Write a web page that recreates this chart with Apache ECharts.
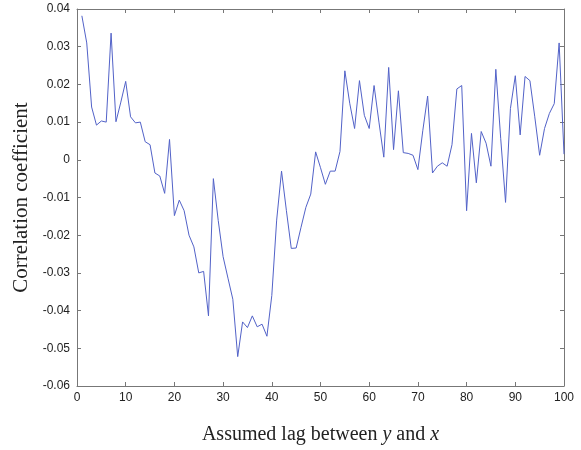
<!DOCTYPE html>
<html>
<head>
<meta charset="utf-8">
<script src="https://cdn.jsdelivr.net/npm/echarts@6/dist/echarts.min.js"></script>
<style>
html,body{margin:0;padding:0;background:#fff;}
#c{width:581px;height:450px;}
</style>
</head>
<body>
<div id="c"></div>
<script>
var lags = [];
for (var i = 1; i <= 100; i++) lags.push(i);
var corr = [
 0.0382, 0.0310, 0.0140, 0.0092, 0.0103, 0.0100, 0.0336, 0.0101, 0.0153, 0.0208,
 0.0114, 0.0098, 0.0100, 0.0048, 0.0040, -0.0035, -0.0043, -0.0089, 0.0054, -0.0148,
 -0.0107, -0.0135, -0.0200, -0.0231, -0.0300, -0.0296, -0.0414, -0.0050, -0.0161, -0.0257,
 -0.0314, -0.0370, -0.0522, -0.0430, -0.0445, -0.0414, -0.0443, -0.0436, -0.0468, -0.0360,
 -0.0160, -0.0030, -0.0135, -0.0235, -0.0234, -0.0179, -0.0126, -0.0091, 0.0021, -0.0021,
 -0.0065, -0.0030, -0.0030, 0.0022, 0.0236, 0.0150, 0.0083, 0.0210, 0.0118, 0.0083,
 0.0197, 0.0100, 0.0007, 0.0245, 0.0027, 0.0183, 0.0019, 0.0017, 0.0012, -0.0026,
 0.0077, 0.0169, -0.0035, -0.0017, -0.0008, -0.0017, 0.0040, 0.0188, 0.0197, -0.0135,
 0.0070, -0.0061, 0.0075, 0.0044, -0.0017, 0.0240, 0.0057, -0.0113, 0.0136, 0.0223,
 0.0066, 0.0221, 0.0210, 0.0114, 0.0012, 0.0083, 0.0123, 0.0149, 0.0310, 0.0015
];
var xTicks = {min: 0, max: 100, interval: 10};
var yTicks = {min: -0.06, max: 0.04, interval: 0.01};
var xName = 'Assumed lag between {i|y} and {i|x}';
var yName = 'Correlation coefficient';

var data = lags.map(function (l, k) { return [l, corr[k]]; });
var axisColor = '#777';
var labelStyle = {fontFamily: 'Liberation Sans, Arial, sans-serif', fontSize: 12, color: '#222'};
var serif = 'Liberation Serif, Times New Roman, serif';

function yFmt(v) {
  var r = Math.round(v * 100) / 100;
  if (Math.abs(r) < 1e-9) return '0';
  return r.toFixed(2);
}

var chart = echarts.init(document.getElementById('c'), null, {renderer: 'canvas'});
chart.setOption({
  animation: false,
  backgroundColor: '#fff',
  grid: {left: 77, right: 17, top: 9, bottom: 59, containLabel: false},
  xAxis: [{
    type: 'value', position: 'bottom',
    min: xTicks.min, max: xTicks.max, interval: xTicks.interval,
    axisLine: {show: true, onZero: false, lineStyle: {color: axisColor, width: 1}},
    axisTick: {show: true, inside: true, length: 4, lineStyle: {color: axisColor}},
    axisLabel: Object.assign({margin: 6}, labelStyle),
    splitLine: {show: false},
    name: xName, nameLocation: 'middle', nameGap: 39,
    nameTextStyle: {fontFamily: serif, fontSize: 20, color: '#222',
      rich: {i: {fontFamily: serif, fontStyle: 'italic', fontSize: 20, color: '#222'}}}
  }, {
    type: 'value', position: 'top',
    min: xTicks.min, max: xTicks.max, interval: xTicks.interval,
    axisLine: {show: true, onZero: false, lineStyle: {color: axisColor, width: 1}},
    axisTick: {show: true, inside: true, length: 4, lineStyle: {color: axisColor}},
    axisLabel: {show: false},
    splitLine: {show: false}
  }],
  yAxis: [{
    type: 'value', position: 'left',
    min: yTicks.min, max: yTicks.max, interval: yTicks.interval,
    axisLine: {show: true, onZero: false, lineStyle: {color: axisColor, width: 1}},
    axisTick: {show: true, inside: true, length: 4, lineStyle: {color: axisColor}},
    axisLabel: Object.assign({margin: 7, formatter: yFmt}, labelStyle),
    splitLine: {show: false},
    name: yName, nameLocation: 'middle', nameGap: 45, nameRotate: 90,
    nameTextStyle: {fontFamily: serif, fontSize: 21, color: '#222'}
  }, {
    type: 'value', position: 'right',
    min: yTicks.min, max: yTicks.max, interval: yTicks.interval,
    axisLine: {show: true, onZero: false, lineStyle: {color: axisColor, width: 1}},
    axisTick: {show: true, inside: true, length: 4, lineStyle: {color: axisColor}},
    axisLabel: {show: false},
    splitLine: {show: false}
  }],
  series: [{
    type: 'line',
    xAxisIndex: 0, yAxisIndex: 0,
    data: data,
    showSymbol: false,
    symbol: 'none',
    lineStyle: {color: '#5262c8', width: 1},
    itemStyle: {color: '#5262c8'}
  }]
});
</script>
</body>
</html>
